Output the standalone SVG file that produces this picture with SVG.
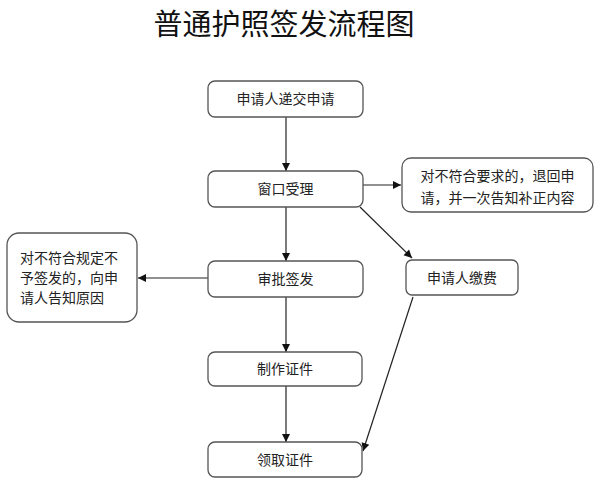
<svg xmlns="http://www.w3.org/2000/svg" width="600" height="488" viewBox="0 0 600 488">
<style>
.box{fill:#fff;stroke:#555;stroke-width:1.3}
.t{font-family:"Noto Sans CJK SC","Noto Sans",sans-serif;font-size:14px;fill:#222}
.c{text-anchor:middle}
.ln{stroke:#222;stroke-width:1.2;fill:none;marker-end:url(#ah)}
</style>
<defs>
<marker id="ah" markerWidth="10" markerHeight="10" refX="9" refY="5" orient="auto" markerUnits="userSpaceOnUse">
<path d="M1,1 L9,5 L1,9 Z" fill="#111"/>
</marker>
</defs>
<rect width="600" height="488" fill="#fff"/>
<text x="284" y="35" class="t c" style="font-size:29px;fill:#111">普通护照签发流程图</text>
<g id="connectors">
<line class="ln" x1="286" y1="117" x2="286" y2="171"/>
<line class="ln" x1="363" y1="185" x2="401" y2="185"/>
<line class="ln" x1="360" y1="207" x2="412" y2="258"/>
<line class="ln" x1="286" y1="207" x2="286" y2="261"/>
<line class="ln" x1="208" y1="278" x2="138" y2="278"/>
<line class="ln" x1="286" y1="297" x2="286" y2="352"/>
<line class="ln" x1="286" y1="386" x2="286" y2="442"/>
<line class="ln" x1="413" y1="297" x2="363" y2="451"/>
</g>
<g id="n1"><rect class="box" x="208" y="81" width="155" height="36" rx="7"/><text class="t c" x="285.5" y="104">申请人递交申请</text></g>
<g id="n2"><rect class="box" x="208" y="171" width="155" height="36" rx="7"/><text class="t c" x="285.5" y="194">窗口受理</text></g>
<g id="n3"><rect class="box" x="402" y="158" width="191" height="54" rx="9"/><text class="t c" x="497.5" y="181">对不符合要求的，退回申</text><text class="t c" x="497.5" y="203">请，并一次告知补正内容</text></g>
<g id="n4"><rect class="box" x="406" y="260" width="112" height="35" rx="6"/><text class="t c" x="462" y="283">申请人缴费</text></g>
<g id="n5"><rect class="box" x="208" y="261" width="155" height="36" rx="7"/><text class="t c" x="285.5" y="284">审批签发</text></g>
<g id="n6"><rect class="box" x="7" y="233" width="130" height="89" rx="12"/><text class="t" x="20" y="263">对不符合规定不</text><text class="t" x="20" y="283">予签发的，向申</text><text class="t" x="20" y="303">请人告知原因</text></g>
<g id="n7"><rect class="box" x="208" y="352" width="154" height="34" rx="7"/><text class="t c" x="285" y="374">制作证件</text></g>
<g id="n8"><rect class="box" x="208" y="442" width="154" height="35" rx="7"/><text class="t c" x="285" y="465">领取证件</text></g>
</svg>
